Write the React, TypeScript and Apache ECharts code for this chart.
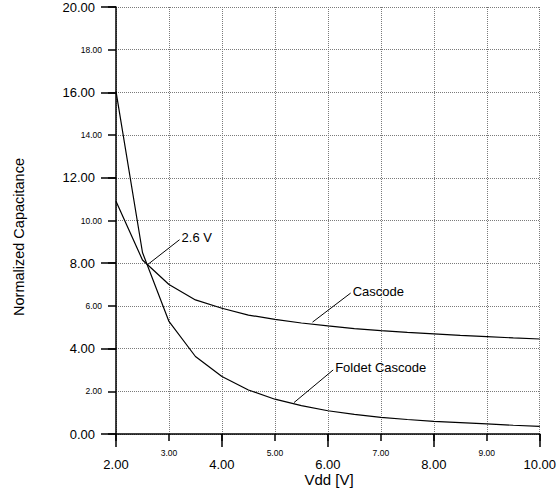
import React, { useEffect, useRef } from "react";
import * as echarts from "echarts";

const vdd = [2, 2.5, 3, 3.5, 4, 4.5, 5, 5.5, 6, 6.5, 7, 7.5, 8, 8.5, 9, 9.5, 10];
const cascode = [10.9, 8.15, 7.0, 6.28, 5.89, 5.57, 5.37, 5.2, 5.06, 4.94, 4.84, 4.76, 4.69, 4.62, 4.56, 4.5, 4.45];
const foldet = [16.05, 8.5, 5.27, 3.63, 2.69, 2.06, 1.63, 1.33, 1.09, 0.92, 0.78, 0.68, 0.59, 0.53, 0.47, 0.41, 0.36];

const annTexts = ["2.6 V", "Cascode", "Foldet Cascode"];
const annFrom = [[2.59, 7.92], [5.71, 5.24], [5.36, 1.47]];
const annTo = [[3.2, 9.1], [6.43, 6.6], [6.1, 3.0]];

const FONT = "'Liberation Sans', Arial, sans-serif";

export default function App() {
  const ref = useRef<HTMLDivElement>(null);
  useEffect(() => {
    if (!ref.current) return;
    const chart = echarts.init(ref.current, undefined, { renderer: "svg" });
    const axisCommon = {
      type: "value" as const,
      axisLine: { show: false, onZero: false, lineStyle: { color: "#000", width: 1.5 } },
      axisTick: { show: true, lineStyle: { color: "#000", width: 1.5 } },
      splitLine: { show: false },
    };
    const grid = "#7a7a7a";
    chart.setOption({
      animation: false,
      backgroundColor: "#fff",
      grid: { left: 116, top: 7, width: 426, height: 427, containLabel: false },
      xAxis: [
        {
          ...axisCommon,
          position: "bottom",
          min: 2,
          max: 10,
          interval: 2,
          axisLine: { show: true, onZero: false, lineStyle: { color: "#000", width: 1.5 } },
          axisTick: { show: true, length: 13, lineStyle: { color: "#000", width: 1.5 } },
          axisLabel: { fontSize: 13, color: "#000", fontFamily: FONT, margin: 24, formatter: (v: number) => v.toFixed(2) },
        },
        {
          ...axisCommon,
          position: "bottom",
          min: 2,
          max: 10,
          interval: 1,
          axisTick: { show: true, length: 7, lineStyle: { color: "#000", width: 1.5 } },
          axisLabel: {
            fontSize: 8.5,
            color: "#000",
            fontFamily: FONT,
            margin: 14,
            formatter: (v: number) => (Math.round(v) % 2 === 1 ? v.toFixed(2) : ""),
          },
          splitLine: { show: true, lineStyle: { color: grid, width: 1, type: [1, 1] } },
        },
      ],
      yAxis: [
        {
          ...axisCommon,
          position: "left",
          min: 0,
          max: 20,
          interval: 4,
          axisLine: { show: true, onZero: false, lineStyle: { color: "#000", width: 1.5 } },
          axisTick: { show: true, length: 15, lineStyle: { color: "#000", width: 1.5 } },
          axisLabel: { fontSize: 13, color: "#000", fontFamily: FONT, margin: 21, formatter: (v: number) => v.toFixed(2) },
        },
        {
          ...axisCommon,
          position: "left",
          min: 0,
          max: 20,
          interval: 2,
          axisTick: { show: true, length: 8, lineStyle: { color: "#000", width: 1.5 } },
          axisLabel: {
            fontSize: 8.5,
            color: "#000",
            fontFamily: FONT,
            margin: 14,
            formatter: (v: number) => (Math.round(v) % 4 === 2 ? v.toFixed(2) : ""),
          },
          splitLine: { show: true, lineStyle: { color: grid, width: 1, type: [1, 1] } },
        },
      ],
      series: [
        {
          name: "Cascode",
          type: "line",
          xAxisIndex: 0,
          yAxisIndex: 0,
          symbol: "none",
          data: vdd.map((x, i) => [x, cascode[i]]),
          lineStyle: { color: "#000", width: 1.2 },
          z: 5,
        },
        {
          name: "Foldet Cascode",
          type: "line",
          xAxisIndex: 0,
          yAxisIndex: 0,
          symbol: "none",
          data: vdd.map((x, i) => [x, foldet[i]]),
          lineStyle: { color: "#000", width: 1.2 },
          z: 5,
        },
      ],
    });

    const toPx = (p: number[]) => chart.convertToPixel({ xAxisIndex: 0, yAxisIndex: 0 }, p) as number[];
    const elements: any[] = [];
    annTexts.forEach((t, i) => {
      const a = toPx(annFrom[i]);
      const b = toPx(annTo[i]);
      elements.push({
        type: "line",
        shape: { x1: a[0], y1: a[1], x2: b[0], y2: b[1] },
        style: { stroke: "#000", lineWidth: 1 },
        z: 10,
      });
      elements.push({
        type: "text",
        x: b[0] + 2,
        y: b[1] - 2,
        style: { text: t, fill: "#000", font: `13px ${FONT}`, textAlign: "left", textVerticalAlign: "middle" },
        z: 10,
      });
    });
    elements.push({
      type: "text",
      x: 329,
      y: 479,
      style: { text: "Vdd [V]", fill: "#000", font: `15px ${FONT}`, textAlign: "center", textVerticalAlign: "middle" },
    });
    elements.push({
      type: "text",
      x: 19,
      y: 237,
      rotation: Math.PI / 2,
      style: { text: "Normalized Capacitance", fill: "#000", font: `14.5px ${FONT}`, textAlign: "center", textVerticalAlign: "middle" },
    });
    chart.setOption({ graphic: elements });
    return () => chart.dispose();
  }, []);
  return <div ref={ref} style={{ position: "fixed", left: 0, top: 0, width: 559, height: 491 }} />;
}
